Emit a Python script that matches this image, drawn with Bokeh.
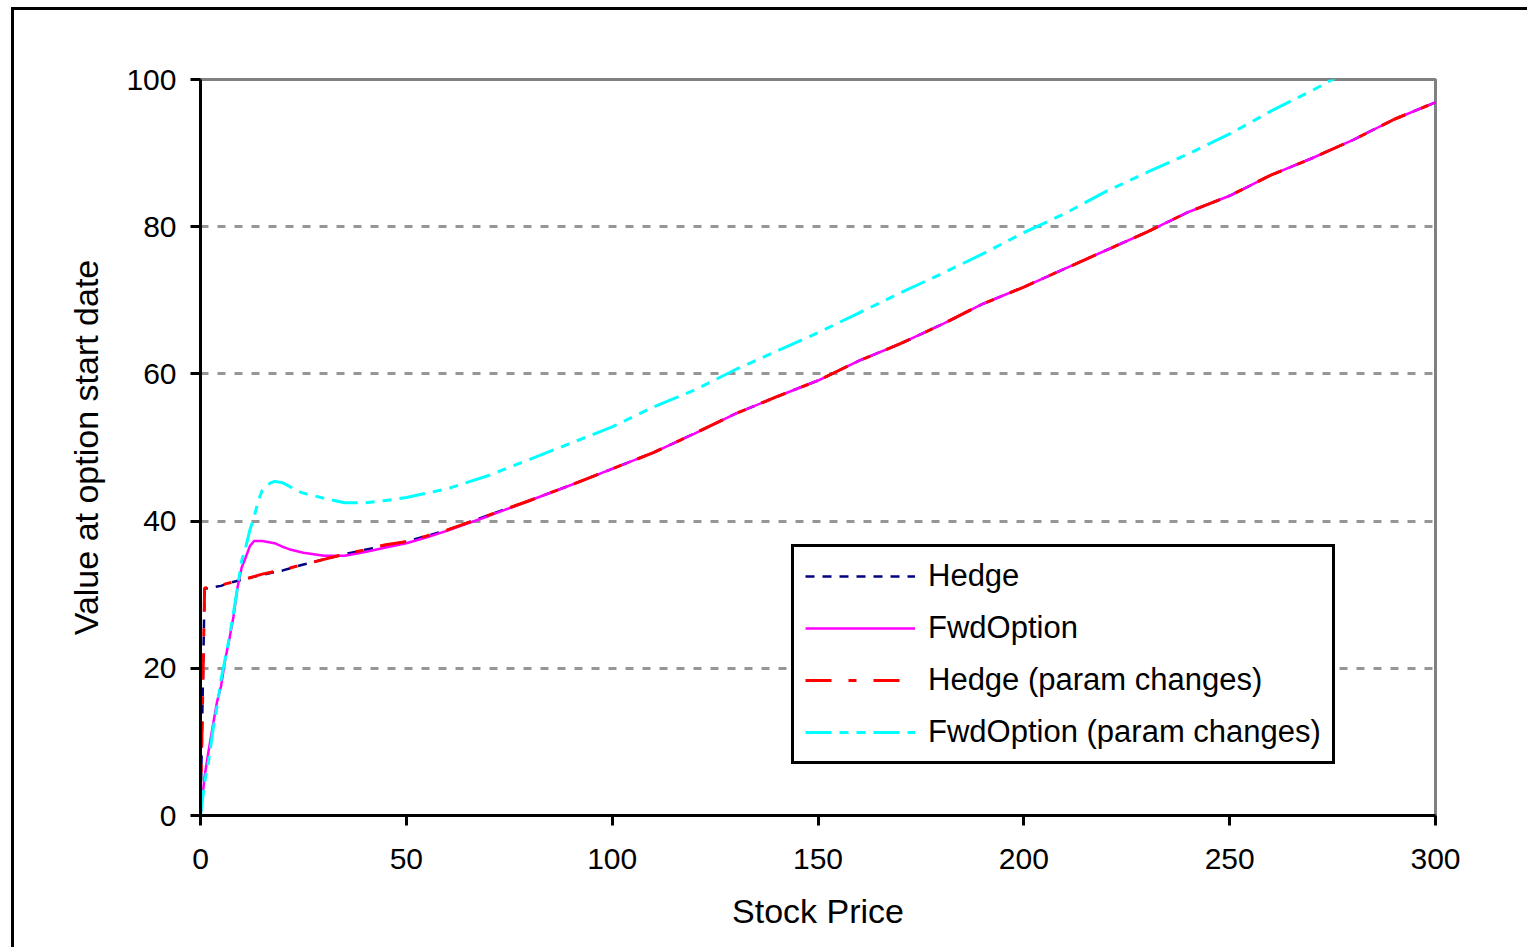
from bokeh.plotting import figure
from bokeh.models import Range1d, FixedTicker, Legend, LegendItem
from bokeh.embed import file_html
from bokeh.resources import INLINE

# ---- data ----
hedge_s = [0, 1, 5, 7, 12, 15, 20, 25, 30, 35, 40, 45, 50, 55, 60, 70, 80, 90, 100,
           110, 120, 130, 140, 150, 160, 170, 180, 190, 200, 210, 220, 230, 240,
           250, 260, 270, 280, 290, 300]
hedge_v = [0, 30.8, 31.2, 31.6, 32.3, 32.7, 33.3, 34.1, 34.8, 35.5, 36.1, 36.7, 37.2,
           38.0, 38.8, 40.8, 42.8, 44.9, 47.1, 49.3, 51.9, 54.6, 56.9, 59.1, 61.8,
           64.1, 66.7, 69.5, 71.8, 74.3, 76.8, 79.3, 82.0, 84.2, 87.0, 89.3, 91.8,
           94.6, 96.9]

hedge_p_s = [0, 1, 5, 7, 12, 15, 20, 25, 30, 35, 40, 45, 50, 55, 60, 70, 80, 90, 100,
             110, 120, 130, 140, 150, 160, 170, 180, 190, 200, 210, 220, 230, 240,
             250, 260, 270, 280, 290, 300]
hedge_p_v = [0, 30.9, 31.3, 31.6, 32.3, 32.8, 33.4, 34.1, 34.8, 35.5, 36.1, 36.8, 37.2,
             38.0, 38.8, 40.8, 42.8, 44.9, 47.1, 49.3, 51.9, 54.6, 56.9, 59.1, 61.8,
             64.1, 66.7, 69.5, 71.8, 74.3, 76.8, 79.3, 82.0, 84.2, 87.0, 89.3, 91.8,
             94.6, 96.9]

fwd_s = [0, 1, 2, 3, 4, 5, 6, 7, 8, 9, 10, 11, 12, 13, 15, 18, 20, 22, 25, 30, 35,
         40, 45, 50, 55, 60, 70, 80, 90, 100, 110, 120, 130, 140, 150, 160, 170, 180,
         190, 200, 210, 220, 230, 240, 250, 260, 270, 280, 290, 300]
fwd_v = [0, 5.3, 8.9, 12.2, 15.4, 17.6, 21.2, 23.9, 27.0, 31.0, 33.7, 35.1, 36.6,
         37.3, 37.3, 37.0, 36.5, 36.1, 35.7, 35.3, 35.3, 35.8, 36.4, 37.0, 37.8, 38.7,
         40.7, 42.8, 44.9, 47.1, 49.3, 51.9, 54.6, 56.9, 59.1, 61.8, 64.1, 66.7, 69.5,
         71.8, 74.3, 76.8, 79.3, 82.0, 84.2, 87.0, 89.3, 91.8, 94.6, 96.9]

fwd_p_s = [0, 1, 2, 3, 4, 5, 6, 7, 8, 9, 10, 11, 12, 13, 14, 15, 17, 18, 20, 22, 23,
           25, 30, 35, 40, 45, 50, 55, 60, 70, 80, 90, 100, 110, 120, 130, 140, 150,
           160, 170, 180, 190, 200, 210, 220, 230, 240, 250, 260, 270, 280, 290, 300]
fwd_p_v = [0, 4.5, 7.5, 11.5, 14.8, 18.5, 21.3, 24.2, 27.5, 31.0, 34.6, 36.5, 38.8,
           40.5, 42.7, 44.2, 45.2, 45.4, 45.2, 44.6, 44.2, 43.8, 43.1, 42.5, 42.5,
           42.8, 43.2, 43.8, 44.4, 46.2, 48.4, 50.6, 52.8, 55.5, 57.8, 60.6, 63.1,
           65.6, 68.3, 71.0, 73.6, 76.3, 79.2, 81.8, 84.8, 87.4, 89.9, 92.6, 95.7,
           98.5, 101.5, 104.3, 107.0]

series_names = ["Hedge", "FwdOption", "Hedge (param changes)", "FwdOption (param changes)"]
x_ticks = [0, 50, 100, 150, 200, 250, 300]
y_ticks = [0, 20, 40, 60, 80, 100]

FONT = "Liberation Sans"

p = figure(width=1516, height=940, output_backend="svg", toolbar_location=None,
           x_range=Range1d(0, 300), y_range=Range1d(0, 100),
           min_border_left=186, min_border_right=95, min_border_top=69,
           min_border_bottom=135)
p.frame_width = 1235
p.frame_height = 736
p.margin = (10, 0, 0, 14)
p.styles = {"box-shadow": "-3px -3px 0px 0px black"}

p.background_fill_color = "white"
p.border_fill_color = "white"
p.outline_line_color = "#808080"
p.outline_line_width = 3

p.xgrid.visible = False
p.ygrid.ticker = FixedTicker(ticks=[20, 40, 60, 80])
p.ygrid.grid_line_color = "#969696"
p.ygrid.grid_line_width = 3
p.ygrid.grid_line_dash = "8 9"

for ax, ticks in ((p.xaxis[0], x_ticks), (p.yaxis[0], y_ticks)):
    ax.ticker = FixedTicker(ticks=ticks)
    ax.axis_line_color = "black"
    ax.axis_line_width = 3
    ax.major_tick_line_color = "black"
    ax.major_tick_line_width = 3
    ax.major_tick_out = 10
    ax.major_tick_in = 0
    ax.minor_tick_line_color = None
    ax.major_label_text_font = FONT
    ax.major_label_text_font_size = "30px"
    ax.major_label_text_color = "black"
    ax.axis_label_text_font = FONT
    ax.axis_label_text_font_size = "34px"
    ax.axis_label_text_font_style = "normal"
    ax.axis_label_text_color = "black"

p.xaxis.axis_label = "Stock Price"
p.yaxis.axis_label = "Value at option start date"
p.xaxis.major_label_standoff = 23
p.yaxis.major_label_standoff = 14
p.xaxis.axis_label_standoff = 20
p.yaxis.axis_label_standoff = 18

r1 = p.line(hedge_s, hedge_v, line_color="#000080", line_width=2.5, line_dash="9 8")
r2 = p.line(fwd_s, fwd_v, line_color="#FF00FF", line_width=2.5)
r3 = p.line(hedge_p_s, hedge_p_v, line_color="#FF0000", line_width=3,
            line_dash="26 17 8 17")
r4 = p.line(fwd_p_s, fwd_p_v, line_color="#00FFFF", line_width=3,
            line_dash="26 8 9 8 9 8")

legend = Legend(items=[LegendItem(label=n, renderers=[r]) for n, r in
                       zip(series_names, [r1, r2, r3, r4])],
                location=(591, 51))
legend.label_text_font = FONT
legend.label_text_font_size = "31px"
legend.label_text_color = "black"
legend.glyph_width = 110
legend.glyph_height = 34
legend.label_height = 34
legend.label_standoff = 13
legend.spacing = 16
legend.padding = 11
legend.margin = 0
legend.border_line_color = "black"
legend.border_line_alpha = 1.0
legend.border_line_width = 3
legend.background_fill_color = "white"
legend.background_fill_alpha = 1
p.add_layout(legend, "center")

open("out.html", "w").write(file_html(p, INLINE))
